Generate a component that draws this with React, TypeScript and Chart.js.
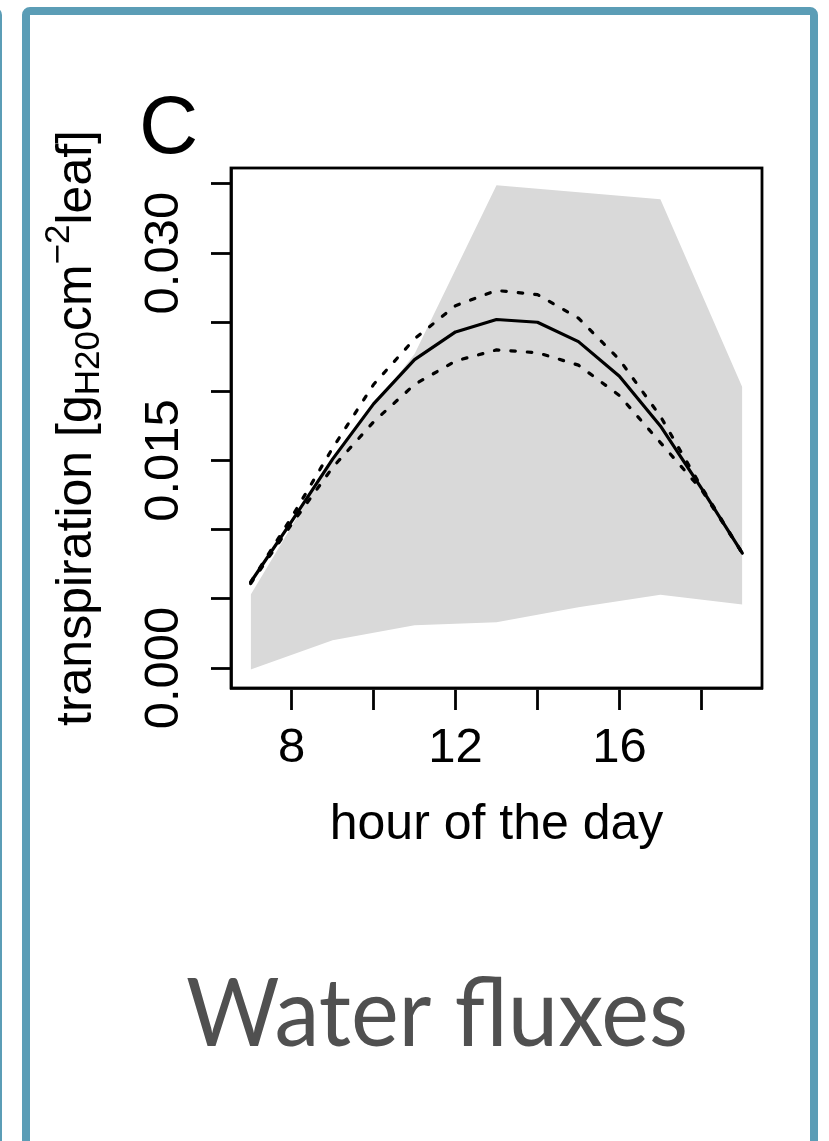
import React, { useEffect, useRef } from 'react';
import { Chart, registerables } from 'chart.js';

Chart.register(...registerables);

// Hourly transpiration: mean and its upper / lower bounds
const HOURS = [7, 8, 9, 10, 11, 12, 13, 14, 15, 16, 17, 18, 19];
const MEAN_TRANSPIRATION = [0.0062, 0.0106, 0.0151, 0.0191, 0.0223, 0.0243, 0.0252, 0.025, 0.0236, 0.0211, 0.0175, 0.013, 0.0083];
const UPPER_BOUND = [0.0062, 0.0109, 0.0159, 0.0205, 0.0238, 0.0262, 0.0273, 0.027, 0.0253, 0.0223, 0.0182, 0.0131, 0.0083];
const LOWER_BOUND = [0.0061, 0.0104, 0.0145, 0.0178, 0.0205, 0.0222, 0.023, 0.0228, 0.0219, 0.0197, 0.0163, 0.0129, 0.0083];

// Observed range (grey envelope), every two hours
const RANGE_HOURS = [7, 9, 11, 13, 15, 17, 19];
const RANGE_MIN = [-0.0001, 0.002, 0.0031, 0.0033, 0.0044, 0.0053, 0.0046];
const RANGE_MAX = [0.0053, 0.0152, 0.0227, 0.0349, 0.0344, 0.0339, 0.0203];

// Axis ticks
const X_TICKS = [8, 10, 12, 14, 16, 18];
const X_TICK_LABELS = ['8', '', '12', '', '16', ''];
const Y_TICKS = [0, 0.005, 0.01, 0.015, 0.02, 0.025, 0.03, 0.035];
const Y_TICK_LABELS = ['0.000', '', '', '0.015', '', '', '0.030', ''];

const FONT = "'Liberation Sans', Arial, Helvetica, sans-serif";
const TEAL = '#5b9db6';
const W = 829;
const H = 1141;

const toPoints = (xs: number[], ys: number[]) => xs.map((x, i) => ({ x, y: ys[i] }));

const panelText = {
  id: 'panelText',
  afterDraw(chart: any) {
    const { ctx, chartArea } = chart;
    ctx.save();

    // plot box
    ctx.strokeStyle = '#000';
    ctx.lineWidth = 2.8;
    ctx.strokeRect(chartArea.left, chartArea.top, chartArea.right - chartArea.left, chartArea.bottom - chartArea.top);

    // panel letter
    ctx.fillStyle = '#000';
    ctx.textAlign = 'left';
    ctx.textBaseline = 'alphabetic';
    ctx.font = `82px ${FONT}`;
    ctx.fillText('C', 139, 153);

    // y axis title with subscript and superscript
    const segs = [
      { text: 'transpiration [g', size: 50, dy: 0 },
      { text: 'H20', size: 35, dy: 8 },
      { text: 'cm', size: 50, dy: 0 },
      { text: '\u22122', size: 35, dy: -22 },
      { text: 'leaf]', size: 50, dy: 0 },
    ];
    let total = 0;
    const widths = segs.map((s) => {
      ctx.font = `${s.size}px ${FONT}`;
      const w = ctx.measureText(s.text).width;
      total += w;
      return w;
    });
    ctx.save();
    ctx.translate(91, (chartArea.top + chartArea.bottom) / 2);
    ctx.rotate(-Math.PI / 2);
    let x = -total / 2;
    segs.forEach((s, i) => {
      ctx.font = `${s.size}px ${FONT}`;
      ctx.fillText(s.text, x, s.dy);
      x += widths[i];
    });
    ctx.restore();

    // panel caption
    ctx.fillStyle = '#505050';
    ctx.font = `95px Lato, 'Open Sans', sans-serif`;
    ctx.fillText('Water fluxes', 186, 1046, 502);

    ctx.restore();
  },
};

export default function App() {
  const canvasRef = useRef<HTMLCanvasElement>(null);

  useEffect(() => {
    const canvas = canvasRef.current;
    if (!canvas) return;

    const lineStyle = {
      borderColor: '#000',
      borderWidth: 3.2,
      pointRadius: 0,
      fill: false,
      borderJoinStyle: 'round' as const,
      borderCapStyle: 'round' as const,
    };

    const chart = new Chart(canvas, {
      type: 'line',
      data: {
        datasets: [
          {
            data: toPoints(RANGE_HOURS, RANGE_MIN),
            borderColor: 'rgba(0,0,0,0)',
            borderWidth: 0,
            pointRadius: 0,
            fill: false,
          },
          {
            data: toPoints(RANGE_HOURS, RANGE_MAX),
            borderColor: 'rgba(0,0,0,0)',
            borderWidth: 0,
            pointRadius: 0,
            backgroundColor: '#d9d9d9',
            fill: '-1',
          },
          { data: toPoints(HOURS, UPPER_BOUND), ...lineStyle, borderDash: [4.5, 12] },
          { data: toPoints(HOURS, LOWER_BOUND), ...lineStyle, borderDash: [4.5, 12] },
          { data: toPoints(HOURS, MEAN_TRANSPIRATION), ...lineStyle },
        ],
      },
      options: {
        responsive: false,
        animation: false,
        events: [],
        layout: { padding: { left: 0, top: 168, right: W - 762, bottom: H - (688 + 170) } },
        plugins: {
          legend: { display: false },
          tooltip: { enabled: false },
          filler: { propagate: false, drawTime: 'beforeDatasetsDraw' },
        },
        scales: {
          x: {
            type: 'linear',
            min: 6.52,
            max: 19.48,
            afterBuildTicks: (s: any) => {
              s.ticks = X_TICKS.map((v) => ({ value: v }));
            },
            afterFit: (s: any) => {
              s.height = 170;
            },
            grid: {
              display: true,
              drawOnChartArea: false,
              drawTicks: true,
              tickLength: 22,
              tickWidth: 2.8,
              tickColor: '#000',
            },
            border: { display: true, color: '#000', width: 2.8 },
            ticks: {
              color: '#000',
              font: { family: FONT, size: 49 },
              padding: 9,
              autoSkip: false,
              minRotation: 0,
              maxRotation: 0,
              callback: (_v: any, i: number) => X_TICK_LABELS[i],
            },
            title: {
              display: true,
              text: 'hour of the day',
              color: '#000',
              font: { family: FONT, size: 50 },
              padding: { top: 0, bottom: 3 },
            },
          },
          y: {
            type: 'linear',
            min: -0.001446,
            max: 0.036154,
            afterBuildTicks: (s: any) => {
              s.ticks = Y_TICKS.map((v) => ({ value: v }));
            },
            afterFit: (s: any) => {
              s.width = 231;
            },
            grid: {
              display: true,
              drawOnChartArea: false,
              drawTicks: true,
              tickLength: 20,
              tickWidth: 2.8,
              tickColor: '#000',
            },
            border: { display: true, color: '#000', width: 2.8 },
            ticks: {
              color: '#000',
              font: { family: FONT, size: 49 },
              padding: -15,
              autoSkip: false,
              minRotation: 90,
              maxRotation: 90,
              crossAlign: 'center',
              callback: (_v: any, i: number) => Y_TICK_LABELS[i],
            },
          },
        },
      },
      plugins: [panelText],
    } as any);

    return () => chart.destroy();
  }, []);

  return (
    <div style={{ position: 'fixed', left: 0, top: 0, width: W, height: H, overflow: 'hidden', background: '#fff' }}>
      <div
        style={{
          position: 'absolute',
          left: -200,
          top: 7,
          width: 202,
          height: 1200,
          boxSizing: 'border-box',
          border: `8px solid ${TEAL}`,
          borderRadius: 8,
        }}
      />
      <div
        style={{
          position: 'absolute',
          left: 22,
          top: 7,
          width: 796,
          height: 1200,
          boxSizing: 'border-box',
          border: `8px solid ${TEAL}`,
          borderRadius: 8,
        }}
      />
      <canvas
        ref={canvasRef}
        width={W}
        height={H}
        style={{ position: 'absolute', left: 0, top: 0, width: W, height: H }}
      />
    </div>
  );
}
